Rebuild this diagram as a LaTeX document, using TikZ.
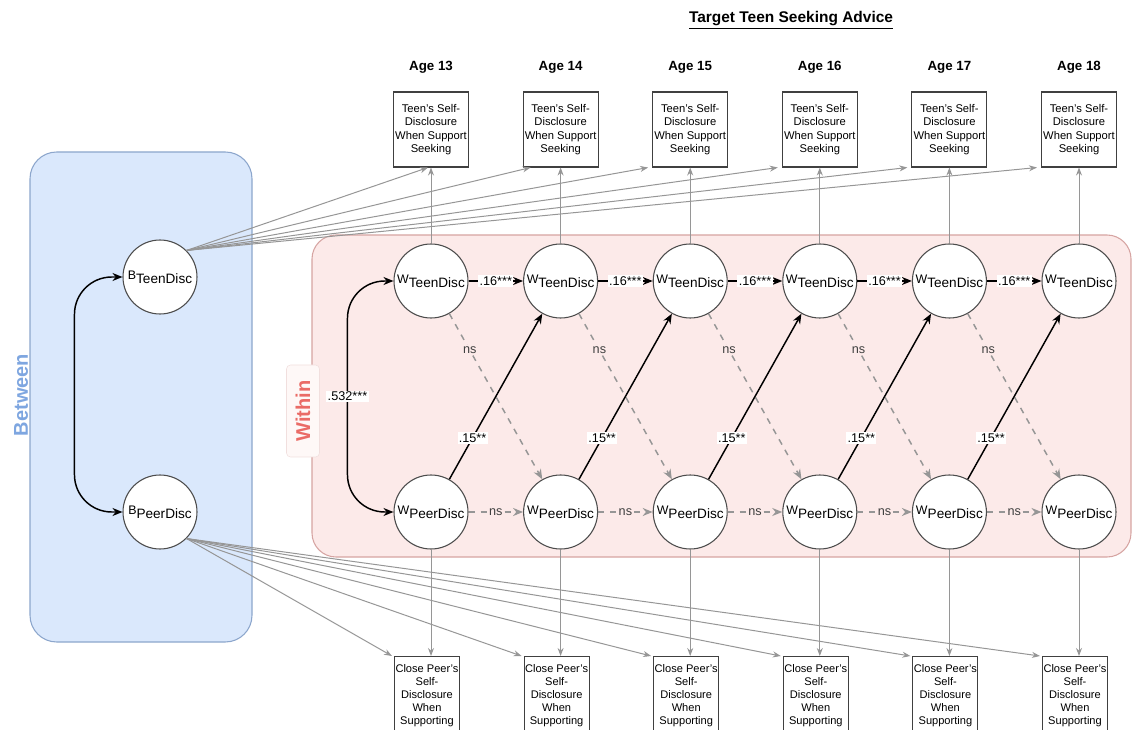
\documentclass[tikz,border=0pt]{standalone}
\usepackage{fontspec}
\setmainfont{Liberation Sans}
\usetikzlibrary{arrows.meta}
\definecolor{betweenfill}{RGB}{218, 232, 252}
\definecolor{betweenline}{RGB}{140, 166, 204}
\definecolor{betweentext}{RGB}{126, 166, 224}
\definecolor{withinfill}{RGB}{252, 234, 233}
\definecolor{withinline}{RGB}{214, 164, 162}
\definecolor{withintext}{RGB}{234, 107, 102}
\definecolor{pathgray}{RGB}{150, 150, 150}
\newcommand{\latentname}[2]{{\fontsize{9.3}{11}\selectfont #1}\raisebox{-3pt}{\fontsize{10.2}{12}\selectfont #2}}

\begin{document}
\begin{tikzpicture}[x=0.75pt, y=-0.75pt,
    latent/.style   = {circle, draw=black!70, fill=white, line width=0.8pt, minimum size=55.5pt, inner sep=0pt},
    teenbox/.style  = {draw=black!75, fill=white, line width=0.8pt, align=center, inner sep=0pt,
                       minimum width=56.25pt, minimum height=56.25pt, font=\fontsize{8.4}{10}\selectfont},
    peerbox/.style  = {draw=black!75, fill=white, line width=0.8pt, align=center, inner sep=0pt, anchor=north,
                       minimum width=48.75pt, minimum height=58.5pt, font=\fontsize{8.3}{9.8}\selectfont},
    agelabel/.style = {font=\bfseries\fontsize{10}{12}\selectfont},
    coef/.style     = {fill=white, inner sep=1pt, sharp corners, font=\fontsize{9.5}{10}\selectfont, text=black},
    nscoef/.style   = {fill=withinfill, inner sep=1pt, sharp corners, font=\fontsize{9.5}{10}\selectfont, text=black!75},
    grayarrow/.style  = {draw=pathgray, line width=0.75pt, -{Stealth[length=6pt, width=4.5pt]}},
    blackarrow/.style = {draw=black, line width=1.1pt, -{Stealth[length=7.5pt, width=6pt]}},
    nsarrow/.style    = {draw=pathgray, line width=1.1pt, dash pattern=on 4.5pt off 4.5pt, -{Stealth[length=7.5pt, width=6pt]}},
  ]
  \useasboundingbox (0,0) rectangle (1135,730);

  \filldraw[draw=betweenline, fill=betweenfill, line width=0.8pt, rounded corners=20pt] (30,152) rectangle (252,642);
  \filldraw[draw=withinline,  fill=withinfill,  line width=0.8pt, rounded corners=18pt] (312,235) rectangle (1131,557);
  \node[rotate=90, text=betweentext, font=\bfseries\fontsize{15}{18}\selectfont] (betweenlbl) at (21,395) {Between};
  \node[rotate=90, text=withintext, font=\bfseries\fontsize{15}{18}\selectfont, draw=withinline!35, fill=withinfill!35,
        rounded corners=3pt, minimum width=69pt, minimum height=24.75pt, inner sep=0pt] (withinlbl) at (303,411) {Within};

  \node[font=\bfseries\fontsize{11.6}{14}\selectfont] (title) at (791,20) {\underline{Target Teen Seeking Advice}};

  \node[latent] (bt) at (160,277) {\latentname{B}{TeenDisc}};
  \node[latent] (bp) at (160,512) {\latentname{B}{PeerDisc}};

  \foreach \i in {1,...,6} {
    \pgfmathsetmacro\x{431+129.6*(\i-1)}
    \pgfmathtruncatemacro\age{12+\i}
    \node[agelabel] (age\i) at (\x,67) {Age \age};
    \node[teenbox] (tb\i) at (\x,129.5) {Teen's Self-\\Disclosure\\When Support\\Seeking};
    \node[peerbox] (pb\i) at (\x-4,656) {Close Peer's\\Self-\\Disclosure\\When\\Supporting};
    \node[latent] (wt\i) at (\x,281) {\latentname{W}{TeenDisc}};
    \node[latent] (wp\i) at (\x,512) {\latentname{W}{PeerDisc}};
    \draw[grayarrow] (wt\i) -- (tb\i);
    \draw[grayarrow] (wp\i.south) -- (wp\i.south |- pb\i.north);
    \draw[grayarrow] (bp.south east) -- ([xshift=-1.5pt]pb\i.north west);
  }

  \draw[grayarrow] (bt.north east) -- ([xshift=-2.25pt]tb1.south);
  \draw[grayarrow] (bt.north east) -- ([xshift=6pt]tb2.south west);
  \foreach \i in {3,...,6}
    \draw[grayarrow] (bt.north east) -- ([xshift=-3pt]tb\i.south west);

  \foreach \i [evaluate=\i as \j using int(\i+1)] in {1,...,5} {
    \draw[blackarrow] (wt\i) -- node[coef] {.16***} (wt\j);
    \draw[nsarrow]    (wt\i) -- node[nscoef, pos=0.22] {ns} (wp\j);
    \draw[blackarrow] (wp\i) -- node[coef, pos=0.25] {.15**} (wt\j);
    \draw[nsarrow]    (wp\i) -- node[nscoef] {ns} (wp\j);
  }

  \draw[blackarrow, {Stealth[length=7.5pt, width=6pt]}-{Stealth[length=7.5pt, width=6pt]}, rounded corners=28pt]
    (bt.west) -- ++(-48,0) |- (bp.west);
  \draw[blackarrow, {Stealth[length=7.5pt, width=6pt]}-{Stealth[length=7.5pt, width=6pt]}, rounded corners=28pt]
    (wt1.west) -- ++(-46,0) |- node[coef, pos=0.25] {.532***} (wp1.west);
\end{tikzpicture}
\end{document}
